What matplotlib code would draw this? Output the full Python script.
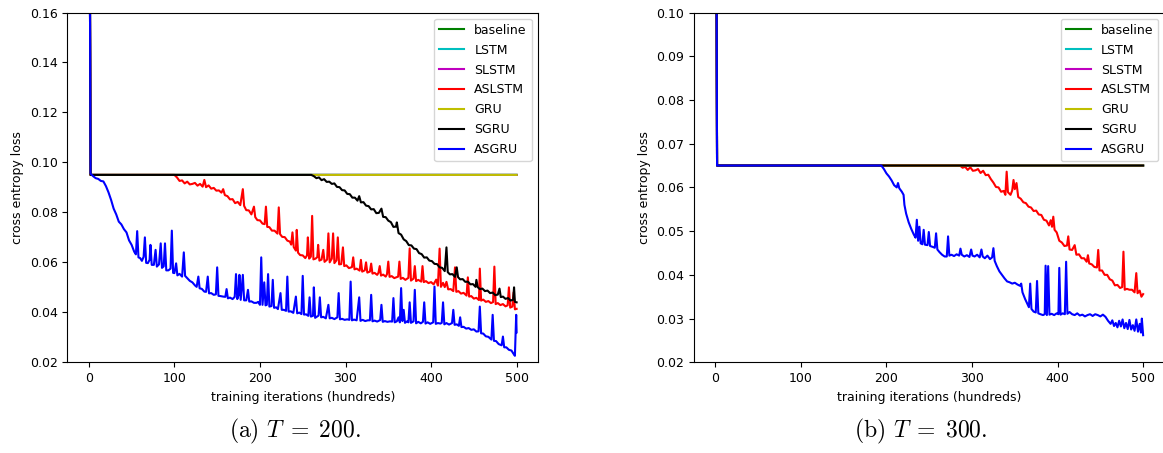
import numpy as np
import matplotlib
matplotlib.use("Agg")
import matplotlib.pyplot as plt

labels = ["baseline", "LSTM", "SLSTM", "ASLSTM", "GRU", "SGRU", "ASGRU"]
colors = ["g", "c", "m", "r", "y", "k", "b"]

# ---- (a) T = 200 : (iteration in hundreds, loss) ----
flat_a = [(0, 0.30), (2, 0.095), (500, 0.095)]

aslstm_a = [(0, 0.30), (2, 0.095), (100, 0.095), (103, 0.0940), (106, 0.0926), (109, 0.0928),
    (112, 0.0916), (115, 0.0923), (118, 0.0912), (121, 0.0914), (124, 0.0918), (127, 0.0907),
    (130, 0.0914), (133, 0.0903), (135, 0.0930), (137, 0.0901), (140, 0.0908), (143, 0.0895),
    (146, 0.0898), (149, 0.0887), (152, 0.0888), (155, 0.0879), (157, 0.0893), (159, 0.0869),
    (162, 0.0865), (165, 0.0852), (168, 0.0853), (171, 0.0837), (174, 0.0842), (177, 0.0829),
    (180, 0.0893), (181.5, 0.0826), (184, 0.0809), (187, 0.0808), (190, 0.0792), (193, 0.0823),
    (194.5, 0.0781), (197, 0.0769), (200, 0.0768), (203, 0.0755), (205.5, 0.0753), (207, 0.0823),
    (208.5, 0.0742), (211, 0.0741), (214, 0.0727), (217, 0.0727), (220.5, 0.0715), (222, 0.0820),
    (223.5, 0.0713), (226, 0.0702), (229, 0.0701), (232, 0.0687), (235, 0.0683), (236.5, 0.0671),
    (238, 0.0720), (239.5, 0.0661), (242, 0.0647), (243, 0.0730), (244.5, 0.0639), (247, 0.0629),
    (250, 0.0628), (253, 0.0617), (255, 0.0628), (256, 0.0700), (257.5, 0.0615), (259.5, 0.0623),
    (261, 0.0786), (262.5, 0.0612), (265, 0.0615), (267, 0.0621), (268, 0.0670), (269.5, 0.0607),
    (272, 0.0611), (274, 0.0650), (275.5, 0.0602), (278.5, 0.0611), (280, 0.0716), (281.5, 0.0600),
    (284, 0.0615), (285.5, 0.0716), (287, 0.0597), (289.5, 0.0608), (291, 0.0700), (292.5, 0.0592),
    (295, 0.0593), (297, 0.0660), (298.5, 0.0585), (301, 0.0588), (304, 0.0577), (307.5, 0.0581),
    (309, 0.0620), (310.5, 0.0572), (313, 0.0575), (316.5, 0.0567), (318, 0.0610), (319.5, 0.0563),
    (322.5, 0.0568), (324, 0.0600), (325.5, 0.0559), (328.5, 0.0563), (330, 0.0595), (331.5, 0.0555),
    (334, 0.0558), (337, 0.0550), (338.5, 0.0558), (340, 0.0585), (341.5, 0.0547), (344, 0.0551),
    (347, 0.0543), (348.5, 0.0553), (350, 0.0603), (351.5, 0.0542), (354, 0.0545), (357, 0.0537),
    (361.5, 0.0543), (363, 0.0603), (364.5, 0.0534), (367, 0.0538), (370, 0.0530), (373.5, 0.0538),
    (375, 0.0656), (376.5, 0.0527), (379.5, 0.0535), (381, 0.0585), (382.5, 0.0525), (385, 0.0530),
    (388.5, 0.0523), (390, 0.0585), (391.5, 0.0521), (394, 0.0525), (397, 0.0517), (400, 0.0521),
    (403, 0.0512), (406, 0.0531), (408, 0.0507), (410, 0.0655), (411.5, 0.0502), (414, 0.0518),
    (416, 0.0501), (418, 0.0522), (420, 0.0492), (423, 0.0493), (426, 0.0485), (428, 0.0580),
    (429.5, 0.0482), (432, 0.0485), (435, 0.0475), (438, 0.0478), (441.5, 0.0467), (443, 0.0540),
    (444.5, 0.0463), (447, 0.0465), (450, 0.0455), (453, 0.0458), (456, 0.0449), (457, 0.0575),
    (458.5, 0.0447), (461, 0.0451), (464, 0.0442), (467, 0.0445), (470, 0.0437), (472.5, 0.0441),
    (474, 0.0583), (475.5, 0.0433), (478, 0.0437), (481, 0.0429), (484, 0.0433), (487, 0.0424),
    (489.5, 0.0428), (491, 0.0500), (492.5, 0.0419), (495, 0.0423), (496.5, 0.0480), (498, 0.0412),
    (500, 0.0414)]

sgru_a = [(0, 0.30), (2, 0.095), (260, 0.095), (263, 0.0945), (266, 0.0937), (269, 0.0940),
    (272, 0.0929), (275, 0.0933), (278, 0.0922), (281, 0.0923), (284, 0.0914), (287, 0.0916),
    (290, 0.0902), (293, 0.0901), (296, 0.0889), (299, 0.0888), (302, 0.0874), (305, 0.0873),
    (308, 0.0859), (311, 0.0859), (314, 0.0847), (316, 0.0865), (318, 0.0840), (321, 0.0841),
    (324, 0.0827), (327, 0.0825), (330, 0.0812), (333, 0.0813), (336, 0.0797), (339, 0.0798),
    (342, 0.0815), (344, 0.0782), (347, 0.0781), (350, 0.0767), (353, 0.0761), (356, 0.0742),
    (359, 0.0743), (360, 0.0760), (362, 0.0717), (365, 0.0711), (368, 0.0692), (371, 0.0685),
    (374, 0.0669), (377, 0.0668), (380, 0.0655), (383, 0.0653), (386, 0.0637), (389, 0.0633),
    (392, 0.0619), (395, 0.0620), (398, 0.0607), (401, 0.0605), (404, 0.0594), (407, 0.0593),
    (410, 0.0580), (413, 0.0578), (416, 0.0565), (418, 0.0660), (419.5, 0.0561), (422, 0.0552),
    (425, 0.0553), (428, 0.0542), (430, 0.0580), (431.5, 0.0541), (434, 0.0532), (437, 0.0533),
    (440, 0.0522), (443, 0.0523), (446, 0.0512), (449, 0.0513), (452, 0.0502), (453, 0.0530),
    (454.5, 0.0501), (457, 0.0493), (460, 0.0495), (463, 0.0485), (466, 0.0487), (469, 0.0477),
    (472, 0.0479), (475, 0.0469), (478, 0.0471), (480, 0.0495), (481.5, 0.0461), (484, 0.0463),
    (487, 0.0454), (490, 0.0457), (493, 0.0447), (496, 0.0451), (497, 0.0500), (498, 0.0442),
    (500, 0.0440)]

asgru_a = [(0, 0.30), (2, 0.0955), (5, 0.0945), (8, 0.0937), (11, 0.0934), (14, 0.0926),
    (17, 0.0924), (20, 0.0905), (23, 0.0880), (26, 0.0850), (29, 0.0815), (32, 0.0792),
    (35, 0.0763), (38, 0.0752), (41, 0.0733), (44, 0.0720), (47, 0.0688), (50, 0.0670),
    (53, 0.0643), (55, 0.0632), (56.5, 0.0725), (58, 0.0620), (60, 0.0617), (62, 0.0606),
    (64, 0.0622), (65.5, 0.0700), (67, 0.0598), (69, 0.0597), (71, 0.0610), (72, 0.0670),
    (73.5, 0.0590), (76, 0.0590), (78, 0.0650), (79.5, 0.0583), (82, 0.0592), (84, 0.0676),
    (85.5, 0.0578), (87.5, 0.0584), (89, 0.0676), (90.5, 0.0568), (93, 0.0568), (95.5, 0.0575),
    (97, 0.0727), (98.5, 0.0558), (100, 0.0557), (102, 0.0596), (103.5, 0.0548), (106, 0.0554),
    (109, 0.0543), (111, 0.0640), (112.5, 0.0546), (115, 0.0537), (118, 0.0526), (121, 0.0520),
    (124, 0.0508), (126, 0.0502), (128, 0.0543), (129.5, 0.0496), (132, 0.0494), (135, 0.0483),
    (137, 0.0482), (139, 0.0543), (140.5, 0.0476), (143, 0.0477), (146, 0.0470), (148.5, 0.0472),
    (150, 0.0580), (151.5, 0.0466), (154, 0.0465), (157, 0.0463), (159.5, 0.0462), (161, 0.0493),
    (162.5, 0.0456), (165, 0.0459), (168, 0.0453), (170.5, 0.0462), (172, 0.0553), (173.5, 0.0453),
    (175, 0.0470), (176, 0.0550), (177.5, 0.0450), (180, 0.0550), (181.5, 0.0448), (184, 0.0448),
    (186, 0.0490), (187.5, 0.0443), (190, 0.0444), (193, 0.0438), (196, 0.0438), (198, 0.0442),
    (200, 0.0430), (201.5, 0.0620), (203, 0.0430), (205, 0.0520), (206.5, 0.0428), (208, 0.0430),
    (209.5, 0.0553), (211, 0.0423), (213.5, 0.0425), (215, 0.0530), (216.5, 0.0418), (219, 0.0420),
    (221, 0.0413), (224, 0.0477), (225.5, 0.0410), (228, 0.0410), (230.5, 0.0406), (232, 0.0543),
    (233.5, 0.0403), (236, 0.0404), (239, 0.0398), (242, 0.0463), (243.5, 0.0396), (246, 0.0399),
    (248.5, 0.0393), (250, 0.0546), (251.5, 0.0391), (254, 0.0392), (256.5, 0.0386), (258, 0.0460),
    (259.5, 0.0383), (262, 0.0386), (263, 0.0500), (264.5, 0.0378), (268.5, 0.0387), (270, 0.0460),
    (271.5, 0.0380), (274, 0.0382), (277, 0.0376), (280, 0.0430), (281.5, 0.0376), (284, 0.0378),
    (287, 0.0373), (290.5, 0.0380), (292, 0.0477), (293.5, 0.0372), (296, 0.0374), (299, 0.0370),
    (302, 0.0372), (304.5, 0.0370), (306, 0.0523), (307.5, 0.0368), (310, 0.0371), (313, 0.0368),
    (316, 0.0460), (317.5, 0.0366), (320, 0.0370), (323, 0.0365), (326, 0.0368), (328.5, 0.0368),
    (330, 0.0470), (331.5, 0.0364), (334, 0.0367), (337, 0.0363), (340.5, 0.0369), (342, 0.0430),
    (343.5, 0.0362), (346, 0.0365), (349, 0.0362), (352, 0.0364), (354.5, 0.0363), (356, 0.0457),
    (357.5, 0.0360), (360, 0.0364), (362, 0.0380), (363.5, 0.0360), (365, 0.0497), (366.5, 0.0365),
    (368, 0.0410), (369.5, 0.0358), (372, 0.0364), (373.5, 0.0360), (375, 0.0440), (376.5, 0.0358),
    (379.5, 0.0364), (381, 0.0490), (382.5, 0.0356), (385, 0.0362), (388, 0.0356), (390.5, 0.0362),
    (392, 0.0440), (393.5, 0.0355), (396, 0.0360), (399, 0.0354), (402.5, 0.0360), (404, 0.0503),
    (405.5, 0.0354), (408, 0.0357), (411, 0.0355), (412.5, 0.0358), (414, 0.0440), (415.5, 0.0352),
    (418, 0.0357), (421, 0.0351), (424.5, 0.0357), (426, 0.0410), (427.5, 0.0350), (430, 0.0352),
    (432.5, 0.0346), (434, 0.0380), (435.5, 0.0341), (438, 0.0342), (441, 0.0335), (444, 0.0337),
    (447, 0.0330), (450, 0.0332), (453, 0.0323), (455.5, 0.0324), (457, 0.0423), (458.5, 0.0316),
    (461, 0.0315), (464, 0.0304), (467, 0.0302), (470.5, 0.0291), (472, 0.0390), (473.5, 0.0286),
    (476, 0.0285), (479, 0.0273), (482.5, 0.0268), (484, 0.0303), (485.5, 0.0260), (488, 0.0260),
    (491, 0.0250), (494, 0.0247), (496, 0.0236), (498, 0.0226), (499.5, 0.0390), (500, 0.0320)]

# ---- (b) T = 300 ----
flat_b = [(0, 0.20), (2, 0.065), (500, 0.065)]

aslstm_b = [(0, 0.20), (2, 0.065), (283, 0.065), (286, 0.0650), (289, 0.0645), (292, 0.0647),
    (295, 0.0640), (298, 0.0646), (301, 0.0638), (304, 0.0639), (307, 0.0642), (310, 0.0633),
    (313, 0.0638), (316, 0.0628), (319, 0.0629), (322, 0.0619), (325, 0.0611), (328, 0.0601),
    (331, 0.0600), (334, 0.0590), (337, 0.0592), (339, 0.0583), (340.5, 0.0636), (342, 0.0589),
    (345, 0.0583), (347, 0.0593), (348.5, 0.0617), (350, 0.0596), (352, 0.0610), (354, 0.0578),
    (357, 0.0574), (360, 0.0566), (363, 0.0564), (366, 0.0556), (369, 0.0554), (372, 0.0546),
    (375, 0.0547), (378, 0.0538), (381, 0.0537), (384, 0.0526), (387, 0.0524), (390, 0.0513),
    (392, 0.0525), (393.5, 0.0510), (395, 0.0533), (396.5, 0.0503), (399, 0.0497), (402, 0.0478),
    (405, 0.0474), (408, 0.0466), (411, 0.0467), (412.5, 0.0488), (414, 0.0458), (417, 0.0457),
    (420, 0.0468), (422, 0.0446), (425, 0.0447), (428, 0.0438), (431, 0.0438), (434, 0.0430),
    (435.5, 0.0445), (437, 0.0426), (440, 0.0424), (443, 0.0418), (446, 0.0417), (447.5, 0.0457),
    (449, 0.0410), (452, 0.0410), (455, 0.0400), (458, 0.0400), (461, 0.0390), (464, 0.0387),
    (467, 0.0376), (470, 0.0377), (473, 0.0370), (475.5, 0.0372), (477, 0.0453), (478.5, 0.0366),
    (481, 0.0368), (484, 0.0366), (487, 0.0366), (490, 0.0360), (492, 0.0404), (493.5, 0.0358),
    (496, 0.0364), (498, 0.0350), (500, 0.0356)]

asgru_b = [(0, 0.20), (2, 0.065), (194, 0.065), (197, 0.0642), (200, 0.0632), (203, 0.0625),
    (206, 0.0616), (209, 0.0605), (212, 0.0600), (213.5, 0.0610), (215, 0.0598), (218, 0.0590),
    (220, 0.0583), (221, 0.0560), (223, 0.0540), (226, 0.0520), (229, 0.0505), (232, 0.0492),
    (234, 0.0485), (235.5, 0.0526), (237, 0.0478), (238.5, 0.0510), (240, 0.0472), (242, 0.0470),
    (243.5, 0.0503), (245, 0.0469), (248, 0.0468), (249.5, 0.0498), (251, 0.0466), (254, 0.0464),
    (256.5, 0.0462), (258, 0.0495), (259.5, 0.0458), (262, 0.0452), (265, 0.0446), (268, 0.0442),
    (270.5, 0.0442), (272, 0.0488), (273.5, 0.0444), (276, 0.0446), (279, 0.0443), (282, 0.0447),
    (285, 0.0444), (286.5, 0.0460), (288, 0.0446), (291, 0.0442), (294, 0.0445), (297, 0.0441),
    (299, 0.0458), (300.5, 0.0444), (303, 0.0442), (306, 0.0446), (309, 0.0440), (311, 0.0458),
    (312.5, 0.0442), (315, 0.0438), (318, 0.0444), (321, 0.0436), (323.5, 0.0440), (325, 0.0461),
    (326.5, 0.0432), (329, 0.0420), (332, 0.0408), (335, 0.0400), (338, 0.0392), (341, 0.0385),
    (344, 0.0383), (347, 0.0380), (350, 0.0382), (353, 0.0378), (356, 0.0375), (357.5, 0.0380),
    (359, 0.0360), (362, 0.0345), (365, 0.0332), (366.5, 0.0326), (368, 0.0380), (369.5, 0.0322),
    (372, 0.0316), (374.5, 0.0314), (376, 0.0386), (377.5, 0.0312), (380, 0.0310), (383, 0.0308),
    (385, 0.0310), (386, 0.0421), (387.5, 0.0308), (389, 0.0420), (390.5, 0.0309), (393, 0.0311),
    (396, 0.0308), (399, 0.0312), (401, 0.0310), (402, 0.0416), (403.5, 0.0309), (406, 0.0312),
    (408.5, 0.0310), (410, 0.0430), (411.5, 0.0311), (414, 0.0315), (417, 0.0310), (420, 0.0308),
    (423, 0.0312), (426, 0.0307), (429, 0.0309), (432, 0.0305), (435, 0.0308), (438, 0.0310),
    (441, 0.0306), (444, 0.0310), (447, 0.0308), (450, 0.0305), (453, 0.0309), (456, 0.0304),
    (459, 0.0295), (462, 0.0288), (464, 0.0296), (466, 0.0283), (468, 0.0290), (470, 0.0280),
    (472, 0.0295), (474, 0.0282), (476, 0.0298), (478, 0.0278), (480, 0.0290), (482, 0.0276),
    (484, 0.0297), (486, 0.0275), (488, 0.0285), (490, 0.0272), (492, 0.0298), (494, 0.0270),
    (496, 0.0288), (497.5, 0.0268), (498.5, 0.0300), (500, 0.0262)]

series_a = [flat_a, flat_a, flat_a, aslstm_a, flat_a, sgru_a, asgru_a]
series_b = [flat_b, flat_b, flat_b, aslstm_b, flat_b, flat_b, asgru_b]

plt.rcParams['font.size'] = 9
plt.rcParams['mathtext.fontset'] = 'cm'

fig = plt.figure(figsize=(11.63, 4.53), dpi=100)
ax1 = fig.add_axes([0.058, 0.2002, 0.4046, 0.7722])
ax2 = fig.add_axes([0.5967, 0.2002, 0.4046, 0.7722])

for ax, series, ylim, yt in [(ax1, series_a, (0.02, 0.16), np.arange(0.02, 0.161, 0.02)),
                             (ax2, series_b, (0.02, 0.10), np.arange(0.02, 0.101, 0.01))]:
    for pts, lab, col in zip(series, labels, colors):
        it, loss = zip(*pts)
        ax.plot(it, loss, color=col, lw=1.5, label=lab)
    ax.set_xlim(-25, 525)
    ax.set_ylim(*ylim)
    ax.set_xticks([0, 100, 200, 300, 400, 500])
    ax.set_yticks(yt)
    ax.set_xlabel("training iterations (hundreds)")
    ax.set_ylabel("cross entropy loss")
    ax.legend(loc="upper right", fontsize=9, labelspacing=0.55)

fig.text(0.254, 0.048, r"(a) $T\;=\;200$.", fontsize=17, family="cmr10", ha="center", va="center")
fig.text(0.792, 0.048, r"(b) $T\;=\;300$.", fontsize=17, family="cmr10", ha="center", va="center")

fig.savefig("out.png", dpi=100)
